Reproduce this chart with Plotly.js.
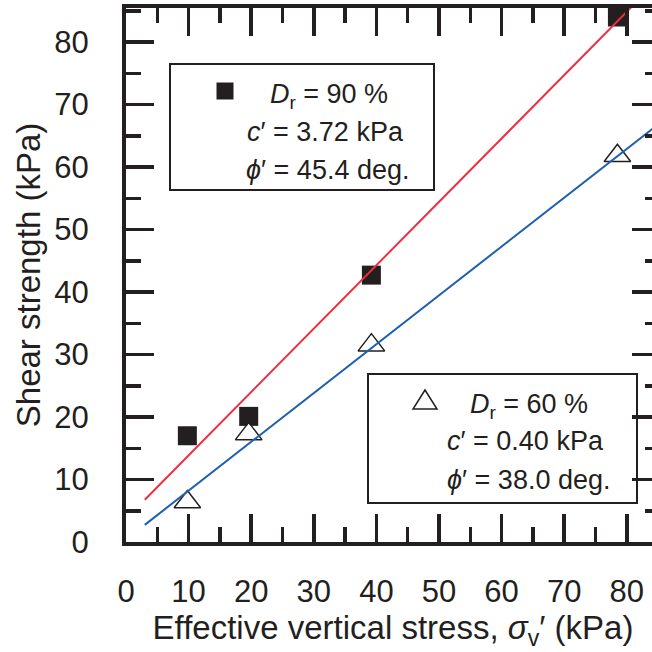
<!DOCTYPE html>
<html>
<head>
<meta charset="utf-8">
<script src="https://cdn.plot.ly/plotly-3.0.1.min.js"></script>
<style>
html,body{margin:0;padding:0;overflow:hidden;background:#fff;}
#chart{width:660px;height:652px;}
</style>
</head>
<body>
<div id="chart"></div>
<script>
// ---- data ----
const sigma90 = [9.8, 19.6, 39.2, 78.5];
const tau90   = [17.0, 20.1, 42.7, 84.0];
const sigma60 = [9.8, 19.6, 39.2, 78.5];
const tau60   = [6.4, 17.3, 31.5, 61.8];
const cPrime  = [3.72, 0.40];     // kPa  (Dr=90 %, Dr=60 %)
const phiDeg  = [45.4, 38.0];     // deg
const fitX    = [3, 90];
const xTickVals = [0, 10, 20, 30, 40, 50, 60, 70, 80];
const yTickVals = [0, 10, 20, 30, 40, 50, 60, 70, 80];

const ink = '#231f20';
const font = 'Liberation Sans, Arial, Helvetica, sans-serif';

function fitLine(c, phi) {
  const t = Math.tan(phi * Math.PI / 180);
  return fitX.map(x => c + t * x);
}

// plot-area pixel geometry (for placing boxes)
const L = 126, T = 8, PW = 534, PH = 534;
const px = x => (x - L) / PW;
const py = y => (T + PH - y) / PH;

const traces = [
  {x: sigma90, y: tau90, mode: 'markers', type: 'scatter',
   marker: {symbol: 'square', size: 19, color: ink, line: {width: 0}}},
  {x: sigma60, y: tau60, mode: 'markers', type: 'scatter', hoverinfo: 'skip',
   marker: {symbol: 'triangle-up', size: 21, color: 'white', line: {width: 0}}},
  {x: sigma60, y: tau60, mode: 'markers', type: 'scatter',
   marker: {symbol: 'triangle-up-open', size: 23, color: ink, line: {width: 1.5, color: ink}}},
  {x: fitX, y: fitLine(cPrime[0], phiDeg[0]), mode: 'lines', type: 'scatter',
   line: {color: '#ee2e3f', width: 2}},
  {x: fitX, y: fitLine(cPrime[1], phiDeg[1]), mode: 'lines', type: 'scatter',
   line: {color: '#1f5fb0', width: 2}}
];

const axisCommon = {
  showgrid: false, zeroline: false, showline: true, linewidth: 4, linecolor: ink,
  mirror: 'ticks', ticks: 'inside', ticklen: 28, tickwidth: 3.5, tickcolor: ink,
  minor: {dtick: 5, ticks: 'inside', ticklen: 15, tickwidth: 3.5, tickcolor: ink},
  tickfont: {family: font, size: 31, color: ink},
  tickmode: 'array'
};

const boxLine = {color: ink, width: 2};
const shapes = [
  {type: 'rect', xref: 'paper', yref: 'paper', x0: px(170), x1: px(434), y0: py(190), y1: py(64),
   line: boxLine, fillcolor: 'white', layer: 'below'},
  {type: 'rect', xref: 'paper', yref: 'paper', x0: px(368), x1: px(637), y0: py(503), y1: py(374),
   line: boxLine, fillcolor: 'white', layer: 'below'},
  {type: 'rect', xref: 'paper', yref: 'paper', x0: px(216.5), x1: px(233.5), y0: py(99.5), y1: py(82.5),
   line: {width: 0}, fillcolor: ink},
  {type: 'path', xref: 'paper', yref: 'paper',
   path: 'M ' + px(413) + ' ' + py(409) + ' L ' + px(437) + ' ' + py(409) + ' L ' + px(425) + ' ' + py(390) + ' Z',
   line: {color: ink, width: 1.5}, fillcolor: 'rgba(0,0,0,0)'}
];

function ann(text, x, y) {
  return {text: text, xref: 'paper', yref: 'paper', x: px(x), y: py(y),
          xanchor: 'center', yanchor: 'middle', showarrow: false,
          font: {family: font, size: 27, color: ink}};
}
const annotations = [
  ann('<i>D</i><sub>r</sub> = 90 %', 329, 96),
  ann('<i>c</i>′ = 3.72 kPa', 325, 132),
  ann('<i>ϕ</i>′ = 45.4 deg.', 327, 170),
  ann('<i>D</i><sub>r</sub> = 60 %', 529, 406),
  ann('<i>c</i>′ = 0.40 kPa', 525, 441),
  ann('<i>ϕ</i>′ = 38.0 deg.', 528, 480)
];

const layout = {
  width: 660, height: 652,
  margin: {l: L, r: 0, t: T, b: 652 - T - PH},
  paper_bgcolor: 'white', plot_bgcolor: 'white',
  showlegend: false,
  font: {family: font, color: ink},
  xaxis: Object.assign({}, axisCommon, {
    range: [0, PW / 6.26], tickvals: xTickVals, ticktext: xTickVals.map(String),
    ticklabelstandoff: 19,
    title: {text: 'Effective vertical stress, <i>σ</i><sub>v</sub>′ (kPa)',
            font: {family: font, size: 33, color: ink}, standoff: 0}
  }),
  yaxis: Object.assign({}, axisCommon, {
    range: [0, PH / 6.25], tickvals: yTickVals, ticktext: yTickVals.map(String),
    ticklabelstandoff: 27,
    title: {text: 'Shear strength (kPa)', font: {family: font, size: 33, color: ink}, standoff: 5}
  }),
  shapes: shapes,
  annotations: annotations
};

Plotly.newPlot('chart', traces, layout, {staticPlot: true, displayModeBar: false});
</script>
</body>
</html>
